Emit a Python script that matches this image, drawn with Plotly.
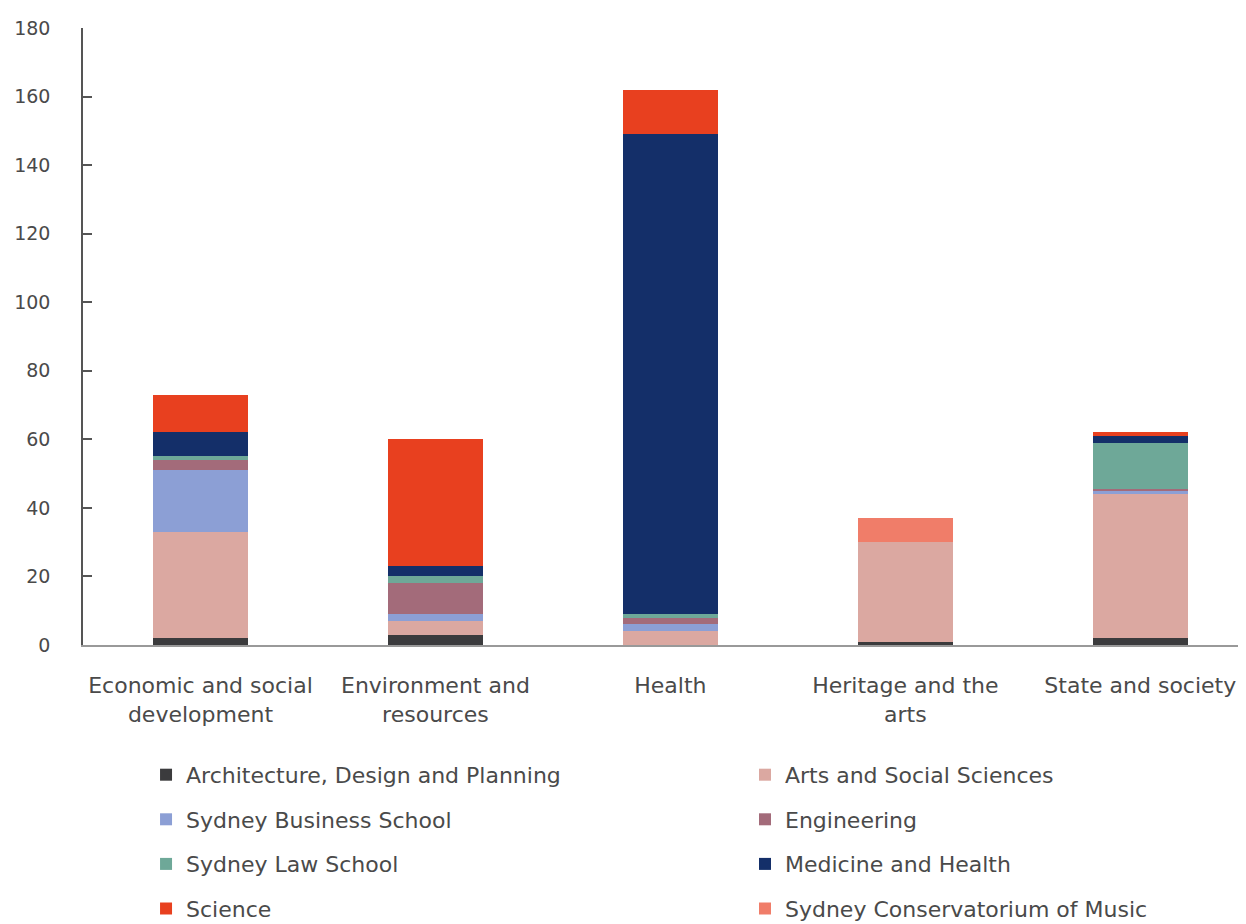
import plotly.graph_objects as go

categories = ["Economic and social<br>development", "Environment and<br>resources", "Health",
              "Heritage and the<br>arts", "State and society"]

architecture = [2, 3, 0, 1, 2]
arts = [31, 4, 4, 29, 42]
business = [18, 2, 2, 0, 1]
engineering = [3, 9, 2, 0, 0.5]
law = [1, 2, 1, 0, 13.5]
medicine = [7, 3, 140, 0, 2]
science = [11, 37, 13, 0, 1]
conservatorium = [0, 0, 0, 7, 0]

series = [
    ("Architecture, Design and Planning", architecture, "#3b3b3d", "legend"),
    ("Arts and Social Sciences", arts, "#dba8a1", "legend2"),
    ("Sydney Business School", business, "#8c9fd5", "legend"),
    ("Engineering", engineering, "#a36b7a", "legend2"),
    ("Sydney Law School", law, "#6ea898", "legend"),
    ("Medicine and Health", medicine, "#142f69", "legend2"),
    ("Science", science, "#e8401f", "legend"),
    ("Sydney Conservatorium of Music", conservatorium, "#f07d69", "legend2"),
]

fig = go.Figure()
for i, (name, vals, color, lg) in enumerate(series):
    fig.add_trace(go.Bar(
        x=list(range(len(categories))), y=vals, name=name,
        marker=dict(color=color, line=dict(width=0)),
        legend=lg, legendgroup=name,
    ))

font_family = "DejaVu Sans, sans-serif"
txt = "#4a4a4a"
fig.update_layout(
    width=1238, height=916,
    barmode="stack", bargap=0.595,
    plot_bgcolor="white", paper_bgcolor="white",
    margin=dict(l=75, r=0, t=20, b=279, autoexpand=False),
    font=dict(family=font_family, size=22, color=txt),
    xaxis=dict(
        tickmode="array", tickvals=list(range(len(categories))), ticktext=categories,
        range=[-0.5, 4.45], showline=True, linecolor="#999999", linewidth=2,
        ticks="", showgrid=False, zeroline=False, automargin=False,
        ticklabelstandoff=20,
        tickfont=dict(size=22, color=txt),
    ),
    yaxis=dict(
        range=[0, 180], tickmode="linear", tick0=0, dtick=20,
        showline=True, linecolor="#555555", linewidth=1.5,
        ticks="inside", ticklen=9, tickcolor="#555555", tickwidth=1.5,
        showgrid=False, zeroline=False, ticklabelstandoff=27, automargin=False,
        tickfont=dict(size=19, color=txt),
    ),
    legend=dict(x=0.1115, y=0.1857, xref="container", yref="container",
                xanchor="left", yanchor="top",
                orientation="v", tracegroupgap=13, font=dict(size=22, color=txt),
                bgcolor="rgba(0,0,0,0)"),
    legend2=dict(x=0.5953, y=0.1857, xref="container", yref="container",
                 xanchor="left", yanchor="top",
                 orientation="v", tracegroupgap=13, font=dict(size=22, color=txt),
                 bgcolor="rgba(0,0,0,0)"),
)

fig.write_html("out.html")
